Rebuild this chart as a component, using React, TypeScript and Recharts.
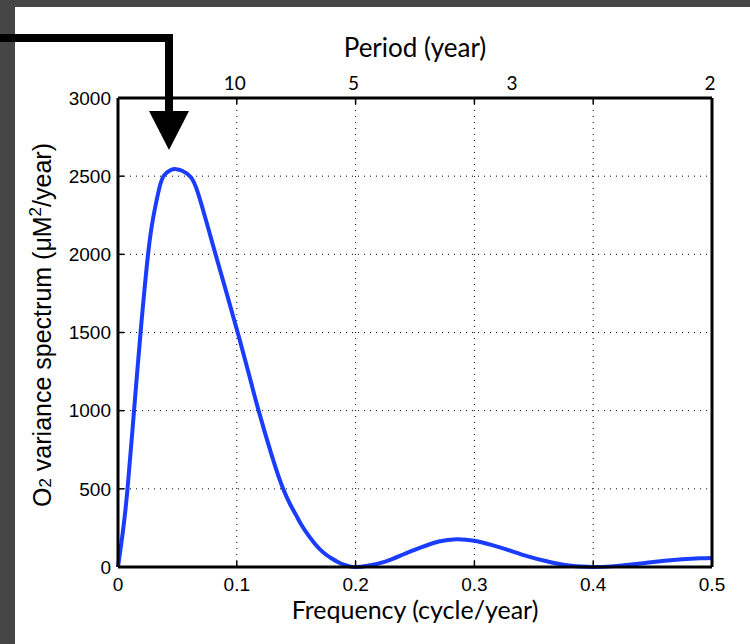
import React from 'react'
import { LineChart, Line, XAxis, YAxis, CartesianGrid } from 'recharts'

// frequency (cycle/year) and O2 variance spectrum (uM^2/year)
const freqs = [
  0, 0.004, 0.008, 0.0135, 0.019, 0.0253, 0.03, 0.035, 0.0388, 0.044, 0.049, 0.054, 0.0612, 0.067,
  0.074, 0.081, 0.09, 0.1, 0.11, 0.118, 0.13, 0.139, 0.145, 0.15, 0.155, 0.16, 0.165, 0.17, 0.175,
  0.18, 0.185, 0.19, 0.195, 0.2, 0.21, 0.225, 0.24, 0.255, 0.27, 0.285, 0.3, 0.315, 0.33, 0.345,
  0.36, 0.375, 0.39, 0.4, 0.415, 0.43, 0.445, 0.46, 0.475, 0.49, 0.5,
]
const spectrum = [
  0, 220, 500, 1000, 1500, 2000, 2250, 2430, 2505, 2538, 2545, 2535, 2495, 2400,
  2220, 2030, 1790, 1520, 1240, 1010, 700, 500, 400, 330, 262, 205, 155, 113, 80,
  54, 32, 15, 4, 0, 8, 35, 80, 125, 163, 178, 168, 140, 105, 68,
  38, 15, 3, 0, 4, 14, 27, 40, 50, 56, 58,
]

const freqTicks = [0, 0.1, 0.2, 0.3, 0.4, 0.5]
const yTicks = [0, 500, 1000, 1500, 2000, 2500, 3000]
// top axis: period labels and the tick marks (which sit on the grid lines)
const periodLabelFreqs = [0.1, 0.2, 1 / 3, 0.5]
const periodLabels = ['10', '5', '3', '2']
const topMarkFreqs = [0.1, 0.2, 0.3, 0.4]

const data = freqs.map((f, i) => ({ f, v: spectrum[i] }))

const tickFont = '"Liberation Sans", Arial, sans-serif'
const titleFont = 'Lato, "Open Sans", sans-serif'

const TopTick = (props: any) => {
  const { x, y, payload } = props
  const axisY = y + 8
  const li = periodLabelFreqs.findIndex((p) => Math.abs(p - payload.value) < 1e-6)
  const hasMark = topMarkFreqs.some((p) => Math.abs(p - payload.value) < 1e-6)
  return (
    <g>
      {hasMark && <line x1={x} x2={x} y1={axisY} y2={axisY + 6} stroke="#000" strokeWidth={1.5} />}
      {li >= 0 && (
        <text x={x - 2} y={axisY - 8} textAnchor="middle" fontFamily={titleFont} fontSize={19} fill="#000">
          {periodLabels[li]}
        </text>
      )}
    </g>
  )
}

const YTitle = () => (
  <text
    transform="translate(51 325) rotate(-90)"
    textAnchor="middle"
    fontFamily={tickFont}
    fontSize={25}
    fill="#000"
  >
    O<tspan fontSize={17}>2</tspan> variance spectrum (μM<tspan fontSize={17} dy={-10}>2</tspan>
    <tspan dy={10}>/year)</tspan>
  </text>
)

export default function App() {
  const topTicks = [...new Set([...topMarkFreqs, ...periodLabelFreqs])].sort((a, b) => a - b)
  return (
    <div style={{ position: 'absolute', left: 0, top: 0, width: 750, height: 644, background: '#fff', overflow: 'hidden' }}>
      <div style={{ position: 'absolute', left: 0, top: 0, width: 750, height: 7, background: '#464646' }} />
      <div style={{ position: 'absolute', left: 0, top: 0, width: 15, height: 644, background: '#464646' }} />
      <div style={{ position: 'absolute', left: 0, top: 0 }}>
        <LineChart width={750} height={644} data={data} margin={{ top: 38, right: 0, bottom: 17, left: 38 }}>
          <CartesianGrid stroke="#000" strokeWidth={1} strokeDasharray="1 5" />
          <XAxis
            dataKey="f"
            type="number"
            domain={[0, 0.5]}
            ticks={freqTicks}
            height={60}
            interval={0}
            tickSize={-6}
            tickMargin={17}
            tickFormatter={(v) => String(v)}
            tick={{ fontFamily: tickFont, fontSize: 19, fill: '#000' }}
            tickLine={{ stroke: '#000', strokeWidth: 1.5 }}
            axisLine={{ stroke: '#000', strokeWidth: 3 }}
            label={{ value: 'Frequency (cycle/year)', position: 'insideBottom', offset: 8, fontFamily: titleFont, fontSize: 25, fill: '#000' }}
          />
          <XAxis
            xAxisId="top"
            orientation="top"
            dataKey="f"
            type="number"
            domain={[0, 0.5]}
            ticks={topTicks}
            interval={0}
            height={60}
            tickSize={0}
            tickMargin={8}
            tickLine={false}
            tick={<TopTick />}
            axisLine={{ stroke: '#000', strokeWidth: 3 }}
            label={{ value: 'Period (year)', position: 'insideTop', offset: 1, fontFamily: titleFont, fontSize: 26, fill: '#000' }}
          />
          <YAxis
            type="number"
            domain={[0, 3000]}
            ticks={yTicks}
            interval={0}
            width={80}
            tickSize={-6}
            tickMargin={13}
            tick={{ fontFamily: tickFont, fontSize: 19, fill: '#000' }}
            tickLine={{ stroke: '#000', strokeWidth: 1.5 }}
            axisLine={{ stroke: '#000', strokeWidth: 3 }}
            label={{ content: <YTitle /> }}
          />
          <YAxis
            yAxisId="right"
            orientation="right"
            type="number"
            domain={[0, 3000]}
            ticks={yTicks}
            interval={0}
            width={38}
            tickSize={-6}
            tick={false}
            tickLine={{ stroke: '#000', strokeWidth: 1.5 }}
            axisLine={{ stroke: '#000', strokeWidth: 3 }}
          />
          <Line
            type="natural"
            dataKey="v"
            stroke="#1a3cff"
            strokeWidth={4}
            dot={false}
            isAnimationActive={false}
          />
        </LineChart>
      </div>
      <svg width={750} height={644} style={{ position: 'absolute', left: 0, top: 0, pointerEvents: 'none' }}>
        <path d="M0 38 H169 V112" fill="none" stroke="#000" strokeWidth={8} strokeLinejoin="miter" />
        <polygon points="149,111 189,111 169,150" fill="#000" />
      </svg>
    </div>
  )
}
